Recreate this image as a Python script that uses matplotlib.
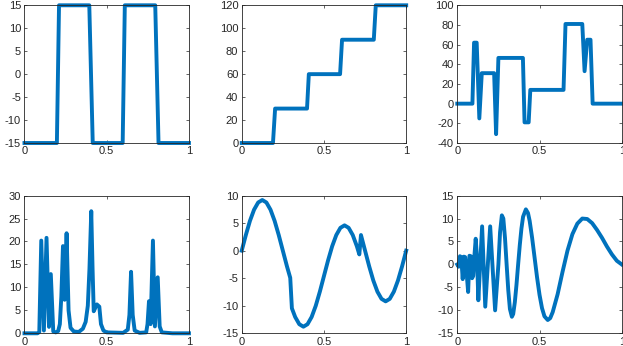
import matplotlib
matplotlib.use("Agg")
import matplotlib.pyplot as plt
from matplotlib.ticker import FuncFormatter

# values
square_t = [0, 0.197, 0.21, 0.394, 0.415, 0.597, 0.61, 0.795, 0.815, 1]
square_y = [-15, -15, 15, 15, -15, -15, 15, 15, -15, -15]

stairs_t = [0, 0.19, 0.203, 0.397, 0.408, 0.598, 0.61, 0.803, 0.815, 1]
stairs_y = [0, 0, 30, 30, 60, 60, 90, 90, 120, 120]

blocks_t = [0, 0.092, 0.102, 0.118, 0.134, 0.149, 0.224, 0.236, 0.25,
            0.399, 0.409, 0.434, 0.444, 0.646, 0.658, 0.76, 0.774, 0.79,
            0.81, 0.823, 1]
blocks_y = [0, 0, 62, 62, -15, 31, 31, -31, 46.5, 46.5, -19, -19, 14, 14,
            81, 81, 33, 65, 65, 0, 0]

bumps_t = [0, 0.08, 0.09, 0.102, 0.118, 0.134, 0.149, 0.16, 0.175, 0.19,
           0.205, 0.215, 0.224, 0.234, 0.244, 0.256, 0.268, 0.28, 0.3,
           0.33, 0.355, 0.372, 0.385, 0.395, 0.406, 0.414, 0.421, 0.43,
           0.44, 0.455, 0.465, 0.48, 0.5, 0.6, 0.628, 0.638, 0.648, 0.658,
           0.67, 0.7, 0.74, 0.748, 0.757, 0.767, 0.781, 0.793, 0.81, 0.822,
           0.835, 0.9, 1]
bumps_y = [0, 0, 0.3, 20.2, 0.6, 20.8, 1.4, 12.9, 0.4, 0.2, 0.5, 2, 8, 19,
           7.3, 21.8, 5, 1.2, 0.4, 0.3, 1, 2.5, 6, 14, 26.6, 14, 4.8, 5.5,
           6.3, 5.8, 2, 0.6, 0.2, 0.1, 0.8, 4, 13.4, 4, 0.6, 0.1, 0.2, 2,
           7, 2, 20.2, 1.5, 12.2, 1.5, 0.2, 0, 0]

heavi_t = [0, 0.025, 0.05, 0.075, 0.1, 0.125, 0.15, 0.175, 0.2, 0.225,
           0.25, 0.275, 0.295, 0.305, 0.325, 0.35, 0.375, 0.4, 0.425, 0.45,
           0.475, 0.5, 0.525, 0.55, 0.575, 0.6, 0.625, 0.65, 0.675, 0.7,
           0.715, 0.725, 0.75, 0.775, 0.8, 0.825, 0.85, 0.875, 0.9, 0.925,
           0.95, 0.975, 1]
heavi_y = [0, 2.84, 5.41, 7.44, 8.75, 9.2, 8.75, 7.44, 5.41, 2.84, 0,
           -2.84, -4.93, -10.46, -12.04, -13.35, -13.8, -13.35, -12.04,
           -10.01, -7.44, -4.6, -1.76, 0.81, 2.84, 4.15, 4.6, 4.15, 2.84,
           0.81, -0.68, 2.84, 0, -2.84, -5.41, -7.44, -8.75, -9.2, -8.75,
           -7.44, -5.41, -2.84, 0]

doppler_t = [0, 0.008, 0.016, 0.024, 0.033, 0.04, 0.048, 0.056, 0.066,
             0.074, 0.082, 0.09, 0.097, 0.104, 0.112, 0.12, 0.128, 0.151,
             0.17, 0.2, 0.23, 0.25, 0.26, 0.271, 0.28, 0.29, 0.3, 0.31,
             0.32, 0.332, 0.34, 0.35, 0.36, 0.37, 0.38, 0.39, 0.4, 0.417,
             0.43, 0.44, 0.455, 0.47, 0.485, 0.5, 0.515, 0.53, 0.55, 0.565,
             0.58, 0.61, 0.64, 0.67, 0.7, 0.73, 0.76, 0.79, 0.82, 0.85,
             0.88, 0.91, 0.94, 0.97, 1]
doppler_y = [0, -0.5, 1.8, 1.6, -3.2, 1.7, 1.6, -1.5, -6, 1.9, 1.8, -3,
             -2.5, 1.8, 5.6, 1.5, -7.8, 8.3, -9.2, 8.3, -10, 0, 7, 10.7,
             10, 5.8, 0, -5.6, -9.7, -11.4, -10.8, -8.2, -4.4, 0, 4.2, 7.8,
             10.4, 12, 11.2, 9.5, 5.8, 1.5, -2.8, -6.6, -9.5, -11.3, -12.1,
             -11.7, -10.4, -6.5, -1.6, 3, 6.6, 8.9, 10, 9.9, 9, 7.5, 5.8,
             3.9, 2.2, 0.8, 0]

# y limits and tick steps for each panel
ylims = [(-15, 15), (0, 120), (-40, 100), (0, 30), (-15, 10), (-15, 15)]
ysteps = [5, 20, 20, 5, 5, 5]

LINE_COLOR = "#0072BD"
AXIS_COLOR = "#262626"

plt.rcParams["font.family"] = ["Liberation Sans", "DejaVu Sans"]
plt.rcParams["font.size"] = 8
plt.rcParams["axes.unicode_minus"] = False

fig = plt.figure(figsize=(6.23, 3.46), dpi=100)

lefts = [0.0393, 0.388, 0.734]
bottoms = [0.5867, 0.0367]
width, height = 0.264, 0.398

series = [(square_t, square_y), (stairs_t, stairs_y), (blocks_t, blocks_y),
          (bumps_t, bumps_y), (heavi_t, heavi_y), (doppler_t, doppler_y)]

fmt = FuncFormatter(lambda v, pos: f"{v:g}")

for i, (t, y) in enumerate(series):
    row, col = divmod(i, 3)
    ax = fig.add_axes([lefts[col], bottoms[row], width, height])
    ax.plot(t, y, color=LINE_COLOR, lw=2.8, clip_on=False)

    lo, hi = ylims[i]
    ax.set_xlim(0, 1)
    ax.set_ylim(lo, hi)
    ax.set_xticks([0, 0.5, 1])
    ax.set_yticks(list(range(lo, hi + 1, ysteps[i])))
    ax.xaxis.set_major_formatter(fmt)
    ax.yaxis.set_major_formatter(fmt)

    ax.tick_params(direction="in", length=2, width=0.5, pad=2.5,
                   colors=AXIS_COLOR, top=True, right=True)
    for s in ax.spines.values():
        s.set_linewidth(0.6)
        s.set_color(AXIS_COLOR)

fig.savefig("out.png", dpi=100)
